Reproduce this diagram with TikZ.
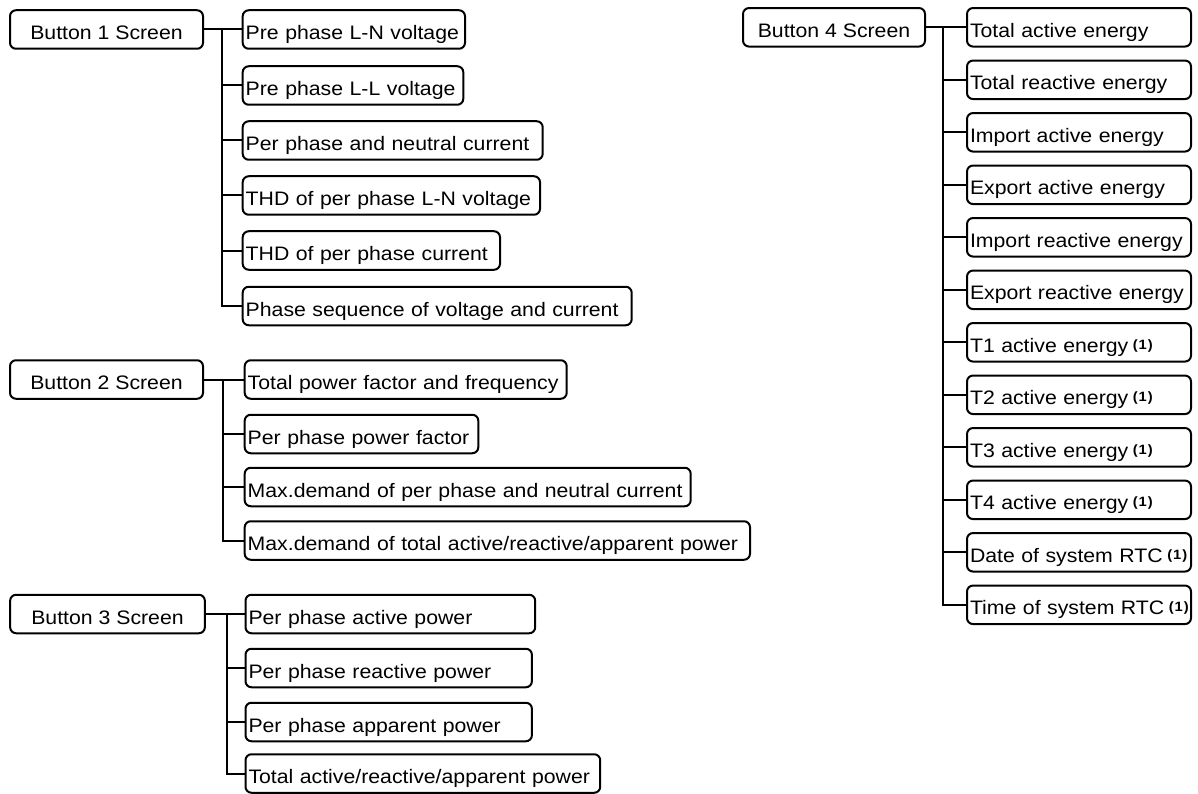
\documentclass[tikz,border=0pt]{standalone}
\usepackage{fontspec}
\setmainfont{Liberation Sans}[FakeStretch=1.09]
\newcommand\lbl[1]{\makebox[\linewidth][l]{#1}}
\newcommand\fnref{\kern4.5pt\raisebox{3pt}{\fontsize{13.5}{13.5}\selectfont\bfseries(\kern1pt1\kern1pt)}}

\tikzset{
  frame/.style={draw=black, line width=2pt, rounded corners=6pt, fill=white,
    minimum height=38.5pt, text height=20pt, text depth=0pt, inner ysep=0pt},
  screen/.style={frame, minimum width=#1, inner xsep=0pt},
  item/.style={frame, anchor=west, text width=#1, align=left, inner xsep=3pt},
  link/.style={line width=2pt},
}

\begin{document}
\begin{tikzpicture}[x=1pt, y=-1pt, font=\fontsize{19.5}{23}\selectfont]
\useasboundingbox (0,0) rectangle (1198,794);
\fill[white] (0,0) rectangle (1198,794);

% ---------- Button 1 ----------
\node[screen=193] (b1) at (106.5,29.5) {Button 1 Screen};
\coordinate (j1) at (222,29.5);
\node[item=216.3] (c11) at (241.7,29.5)  {\lbl{Pre phase L-N voltage}};
\node[item=214.6] (c12) at (241.7,85.5)  {\lbl{Pre phase L-L voltage}};
\node[item=294]   (c13) at (241.7,140.5) {\lbl{Per phase and neutral current}};
\node[item=291.3] (c14) at (241.7,195.5) {\lbl{THD of per phase L-N voltage}};
\node[item=251.3] (c15) at (241.7,250.5) {\lbl{THD of per phase current}};
\node[item=383]   (c16) at (241.7,306)   {\lbl{Phase sequence of voltage and current}};
\draw[link] (b1.east) -- (c11.west);
\foreach \c in {c12,c13,c14,c15,c16}
  \draw[link] (j1) |- (\c.west);

% ---------- Button 2 ----------
\node[screen=193] (b2) at (106.5,379.5) {Button 2 Screen};
\coordinate (j2) at (222.7,379.5);
\node[item=316]   (c21) at (243.7,379.5) {\lbl{Total power factor and frequency}};
\node[item=227.6] (c22) at (243.7,434)   {\lbl{Per phase power factor}};
\node[item=440]   (c23) at (243.7,487)   {\lbl{Max.demand of per phase and neutral current}};
\node[item=499.3] (c24) at (243.7,540.5) {\lbl{Max.demand of total active/reactive/apparent power}};
\draw[link] (b2.east) -- (c21.west);
\foreach \c in {c22,c23,c24}
  \draw[link] (j2) |- (\c.west);

% ---------- Button 3 ----------
\node[screen=194.7] (b3) at (107.5,614) {Button 3 Screen};
\coordinate (j3) at (226.5,614);
\node[item=283.7] (c31) at (244.5,614)   {\lbl{Per phase active power}};
\node[item=280.4] (c32) at (244.5,668)   {\lbl{Per phase reactive power}};
\node[item=280.4] (c33) at (244.5,722)   {\lbl{Per phase apparent power}};
\node[item=348.7] (c34) at (244.5,773.5) {\lbl{Total active/reactive/apparent power}};
\draw[link] (b3.east) -- (c31.west);
\foreach \c in {c32,c33,c34}
  \draw[link] (j3) |- (\c.west);

% ---------- Button 4 ----------
\node[screen=182] (b4) at (834,27.3) {Button 4 Screen};
\coordinate (j4) at (942.7,27.3);
\node[item=218] (d1)  at (966,27.3)  {\lbl{Total active energy}};
\node[item=218] (d2)  at (966,79.8)  {\lbl{Total reactive energy}};
\node[item=218] (d3)  at (966,132.3) {\lbl{Import active energy}};
\node[item=218] (d4)  at (966,184.8) {\lbl{Export active energy}};
\node[item=218] (d5)  at (966,237.3) {\lbl{Import reactive energy}};
\node[item=218] (d6)  at (966,289.8) {\lbl{Export reactive energy}};
\node[item=218] (d7)  at (966,342.3) {\lbl{T1 active energy\fnref}};
\node[item=218] (d8)  at (966,394.8) {\lbl{T2 active energy\fnref}};
\node[item=218] (d9)  at (966,447.3) {\lbl{T3 active energy\fnref}};
\node[item=218] (d10) at (966,499.8) {\lbl{T4 active energy\fnref}};
\node[item=218] (d11) at (966,552.3) {\lbl{Date of system RTC\fnref}};
\node[item=218] (d12) at (966,604.8) {\lbl{Time of system RTC\fnref}};
\draw[link] (b4.east) -- (d1.west);
\foreach \c in {d2,d3,d4,d5,d6,d7,d8,d9,d10,d11,d12}
  \draw[link] (j4) |- (\c.west);
\end{tikzpicture}
\end{document}
